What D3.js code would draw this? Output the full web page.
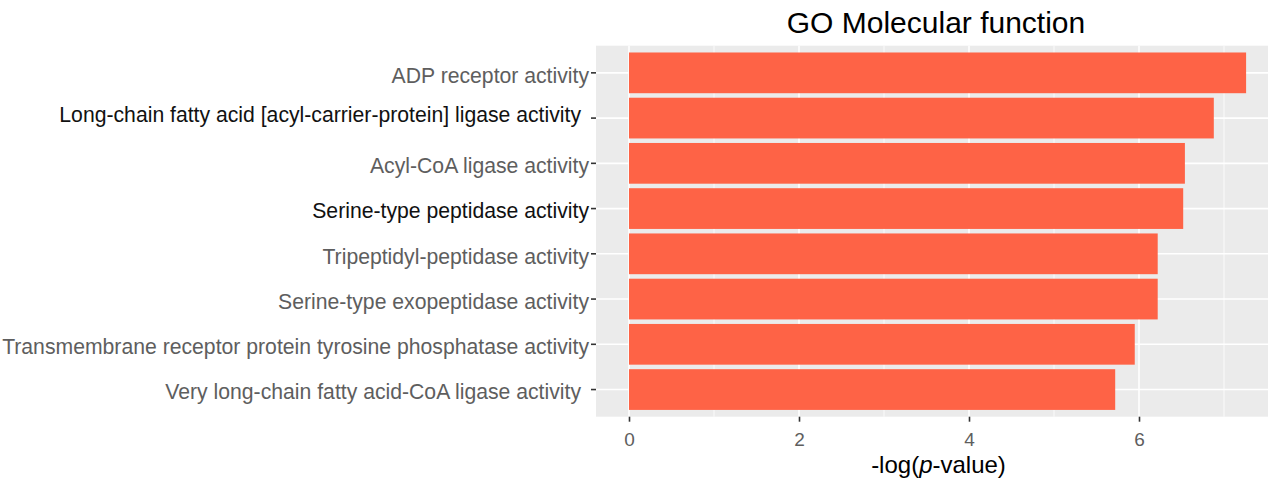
<!DOCTYPE html>
<html>
<head>
<meta charset="utf-8">
<script src="https://cdn.jsdelivr.net/npm/d3@7/dist/d3.min.js"></script>
<style>
  html, body { margin: 0; padding: 0; background: #ffffff; }
  svg { display: block; font-family: "Liberation Sans", Arial, Helvetica, sans-serif; }
</style>
</head>
<body>
<svg id="chart" width="1271" height="482"></svg>
<script>
// ---- data ----
const categories = [
  "ADP receptor activity",
  "Long-chain fatty acid [acyl-carrier-protein] ligase activity",
  "Acyl-CoA ligase activity",
  "Serine-type peptidase activity",
  "Tripeptidyl-peptidase activity",
  "Serine-type exopeptidase activity",
  "Transmembrane receptor protein tyrosine phosphatase activity",
  "Very long-chain fatty acid-CoA ligase activity"
];
const values = [7.26, 6.88, 6.54, 6.52, 6.22, 6.22, 5.95, 5.72];
const xTickValues = [0, 2, 4, 6];
const xMinorValues = [1, 3, 5, 7];
const titleText = "GO Molecular function";

// ---- label styling (kept apart from the data) ----
const labelColor = ["#5e5e5e", "#111111", "#5e5e5e", "#111111", "#5e5e5e", "#5e5e5e", "#5e5e5e", "#5e5e5e"];
const labelDx = [0, -8, 0, 0, 0, 0, 0, -8];
const labelDy = [0, -6, 0, 0, 0, 0, 0, 0];

// ---- layout ----
const panel = { left: 596, right: 1268, top: 45.7, bottom: 416.7 };
const svg = d3.select("#chart");

const x = d3.scaleLinear().domain([0, 6]).range([629, 1139]);
const y = d3.scaleBand().domain(categories)
  .range([panel.top, panel.bottom])
  .paddingInner(0.1).paddingOuter(0.15);

// panel background
svg.append("rect")
  .attr("x", panel.left).attr("y", panel.top)
  .attr("width", panel.right - panel.left).attr("height", panel.bottom - panel.top)
  .attr("fill", "#ebebeb");

// minor vertical gridlines
svg.append("g").selectAll("line").data(xMinorValues).join("line")
  .attr("x1", d => x(d)).attr("x2", d => x(d))
  .attr("y1", panel.top).attr("y2", panel.bottom)
  .attr("stroke", "#ffffff").attr("stroke-width", 0.8);

// major vertical gridlines
svg.append("g").selectAll("line").data(xTickValues).join("line")
  .attr("x1", d => x(d)).attr("x2", d => x(d))
  .attr("y1", panel.top).attr("y2", panel.bottom)
  .attr("stroke", "#ffffff").attr("stroke-width", 1.6);

// major horizontal gridlines
svg.append("g").selectAll("line").data(categories).join("line")
  .attr("x1", panel.left).attr("x2", panel.right)
  .attr("y1", d => y(d) + y.bandwidth() / 2).attr("y2", d => y(d) + y.bandwidth() / 2)
  .attr("stroke", "#ffffff").attr("stroke-width", 1.6);

// bars
svg.append("g").selectAll("rect").data(categories).join("rect")
  .attr("x", x(0))
  .attr("y", d => y(d))
  .attr("width", (d, i) => x(values[i]) - x(0))
  .attr("height", y.bandwidth())
  .attr("fill", "#fe6346");

// x axis
const xAxis = d3.axisBottom(x).tickValues(xTickValues).tickFormat(d3.format("d"))
  .tickSize(5).tickPadding(11);
const gx = svg.append("g").attr("transform", `translate(0,${panel.bottom})`).call(xAxis);
gx.select(".domain").remove();
gx.selectAll(".tick line").attr("stroke", "#333333").attr("stroke-width", 1.6);
gx.selectAll(".tick text").attr("fill", "#5e5e5e")
  .style("font-size", "19px").style("font-family", "Liberation Sans, Arial, sans-serif");

// y axis
const yAxis = d3.axisLeft(y).tickSize(5).tickPadding(2);
const gy = svg.append("g").attr("transform", `translate(${panel.left},0)`).call(yAxis);
gy.select(".domain").remove();
gy.selectAll(".tick line").attr("stroke", "#333333").attr("stroke-width", 1.6);
gy.selectAll(".tick text")
  .style("font-size", "21.2px").style("font-family", "Liberation Sans, Arial, sans-serif")
  .attr("fill", (d, i) => labelColor[i])
  .attr("dx", (d, i) => labelDx[i])
  .attr("dy", (d, i) => (0.32 * 21.2 + 3 + labelDy[i]) + "px");

// title
svg.append("text")
  .attr("x", 936).attr("y", 33)
  .attr("text-anchor", "middle")
  .attr("fill", "#000000")
  .style("font-size", "30px")
  .text(titleText);

// x axis title with italic p
const xt = svg.append("text")
  .attr("x", 938.5).attr("y", 473)
  .attr("text-anchor", "middle")
  .attr("fill", "#000000")
  .style("font-size", "24px");
xt.append("tspan").text("-log(");
xt.append("tspan").style("font-style", "italic").text("p");
xt.append("tspan").text("-value)");
</script>
</body>
</html>
